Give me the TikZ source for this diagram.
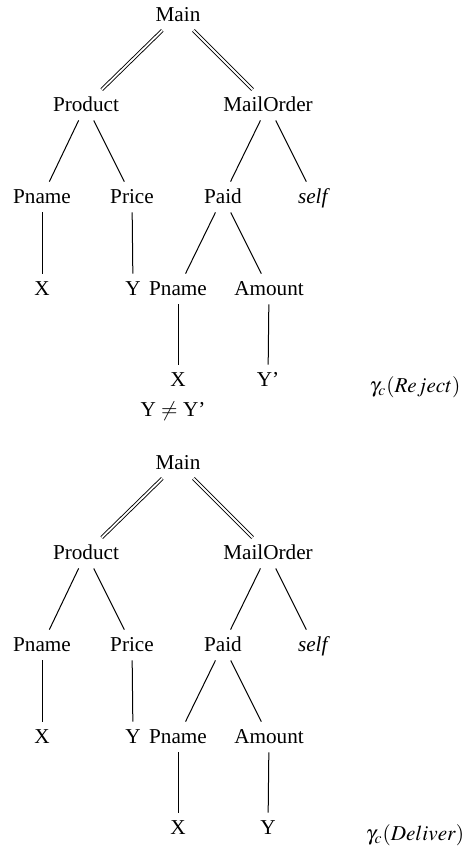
\documentclass[tikz,border=0pt]{standalone}
\usepackage{mathptmx}
\usepackage{fontspec}
\setmainfont{Liberation Serif}
\usepackage{tikz}

\tikzset{
    lbl/.style={inner sep=3pt, text height=7.5pt, text depth=1.5pt,
                font=\fontsize{10.6}{13}\selectfont},
    edge/.style={line width=0.5pt},
    dbl/.style={double, double distance=0.9pt, line width=0.45pt},
}

\begin{document}
\begin{tikzpicture}[x=0.5pt, y=-0.5pt]
                \useasboundingbox (0,0) rectangle (462,852);

                \foreach \dy/\val/\act in {0/{Y'}/Reject, 448/Y/Deliver} {
                \begin{scope}[shift={(0,\dy)}]
                \node[lbl] (main\act) at (178, 15) {Main};
                \node[lbl] (product\act) at (86, 105) {Product};
                \node[lbl] (mailorder\act) at (268, 105) {MailOrder};
                \node[lbl] (pname\act) at (42, 197) {Pname};
                \node[lbl] (price\act) at (132, 197) {Price};
                \node[lbl] (paid\act) at (223, 197) {Paid};
                \node[lbl] (self\act) at (314, 197) {\textit{self}};
                \node[lbl] (x\act) at (42, 289) {X};
                \node[lbl] (y\act) at (133, 289) {Y};
                \node[lbl] (pnametwo\act) at (178, 289) {Pname};
                \node[lbl] (amount\act) at (269, 289) {Amount};
                \node[lbl] (xtwo\act) at (178, 380) {X};
                \node[lbl] (ytwo\act) at (268, 380) {\val};
                \node[lbl] (gamma\act) at (415, 386) {$\gamma_c(\act)$};

                \draw[dbl] (main\act) -- (product\act);
                \draw[dbl] (main\act) -- (mailorder\act);
                \draw[edge] (product\act) -- (pname\act);
                \draw[edge] (product\act) -- (price\act);
                \draw[edge] (mailorder\act) -- (paid\act);
                \draw[edge] (mailorder\act) -- (self\act);
                \draw[edge] (pname\act) -- (x\act);
                \draw[edge] (price\act) -- (y\act);
                \draw[edge] (paid\act) -- (pnametwo\act);
                \draw[edge] (paid\act) -- (amount\act);
                \draw[edge] (pnametwo\act) -- (xtwo\act);
                \draw[edge] (amount\act) -- (ytwo\act);
                \end{scope}
                }

                \node[lbl] (neq) at (173, 410) {Y $\neq$ Y'};
            \end{tikzpicture}
\end{document}
